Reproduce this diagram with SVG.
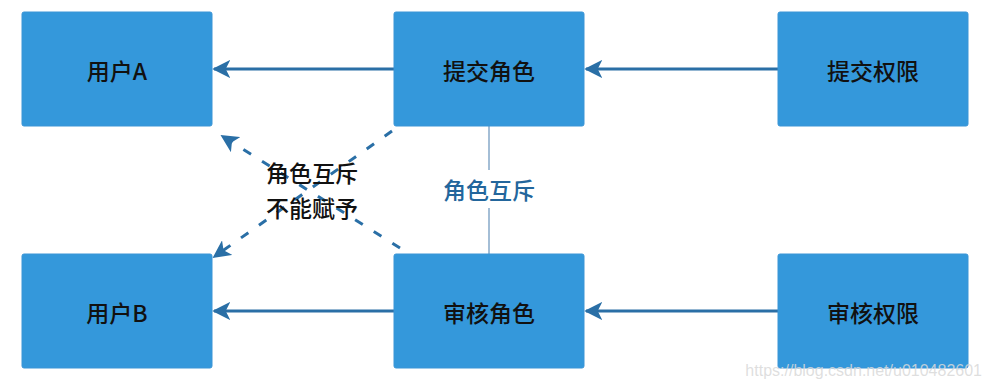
<svg xmlns="http://www.w3.org/2000/svg" width="990" height="386" viewBox="0 0 990 386">
<style>
.box{fill:#3498db;stroke:#3a95d6;stroke-width:1}
.lbl{font-family:"Noto Sans CJK SC","Noto Sans",sans-serif;font-size:23px;font-weight:500;fill:#111;text-anchor:middle;dominant-baseline:central}
.arr{stroke:#2a6fa6;stroke-width:3;fill:none;marker-end:url(#ah)}
.dash{stroke:#2a6fa6;stroke-width:3;fill:none;stroke-dasharray:9 13;marker-end:url(#ah)}
</style>
<defs>
<marker id="ah" viewBox="0 0 10 10" refX="9" refY="5" markerWidth="6" markerHeight="6" markerUnits="strokeWidth" orient="auto">
<path d="M0,0 L10,5 L0,10 L2.5,5 Z" fill="#2a6fa6"/>
</marker>
</defs>
<rect width="990" height="386" fill="#fff"/>
<g id="connectors">
<line class="arr" x1="394" y1="69" x2="214" y2="69"/>
<line class="arr" x1="778" y1="69" x2="586" y2="69"/>
<line class="arr" x1="394" y1="311" x2="214" y2="311"/>
<line class="arr" x1="778" y1="311" x2="586" y2="311"/>
<line class="dash" x1="400" y1="248" x2="222" y2="136"/>
<line class="dash" x1="392" y1="131" x2="214" y2="257"/>
<line x1="489" y1="126" x2="489" y2="170" stroke="#86a9c8" stroke-width="1.5"/>
<line x1="489" y1="208" x2="489" y2="254" stroke="#86a9c8" stroke-width="1.5"/>
<text x="489" y="189" class="lbl" style="fill:#23669c">角色互斥</text>
<text x="312" y="172" class="lbl">角色互斥</text>
<text x="312" y="207" class="lbl">不能赋予</text>
</g>
<g id="userA"><rect class="box" x="22" y="12" width="190" height="114" rx="2"/><text x="117" y="70" class="lbl">用户A</text></g>
<g id="submitRole"><rect class="box" x="394" y="12" width="190" height="114" rx="2"/><text x="489" y="70" class="lbl">提交角色</text></g>
<g id="submitPerm"><rect class="box" x="778" y="12" width="190" height="114" rx="2"/><text x="873" y="70" class="lbl">提交权限</text></g>
<g id="userB"><rect class="box" x="22" y="254" width="190" height="114" rx="2"/><text x="117" y="312" class="lbl">用户B</text></g>
<g id="auditRole"><rect class="box" x="394" y="254" width="190" height="114" rx="2"/><text x="489" y="312" class="lbl">审核角色</text></g>
<g id="auditPerm"><rect class="box" x="778" y="254" width="190" height="114" rx="2"/><text x="873" y="312" class="lbl">审核权限</text></g>
<text x="982" y="376" font-family="Liberation Sans, Arial, sans-serif" font-size="16" fill="#d9d9d9" fill-opacity="0.85" text-anchor="end">https://blog.csdn.net/u010482601</text>
</svg>
